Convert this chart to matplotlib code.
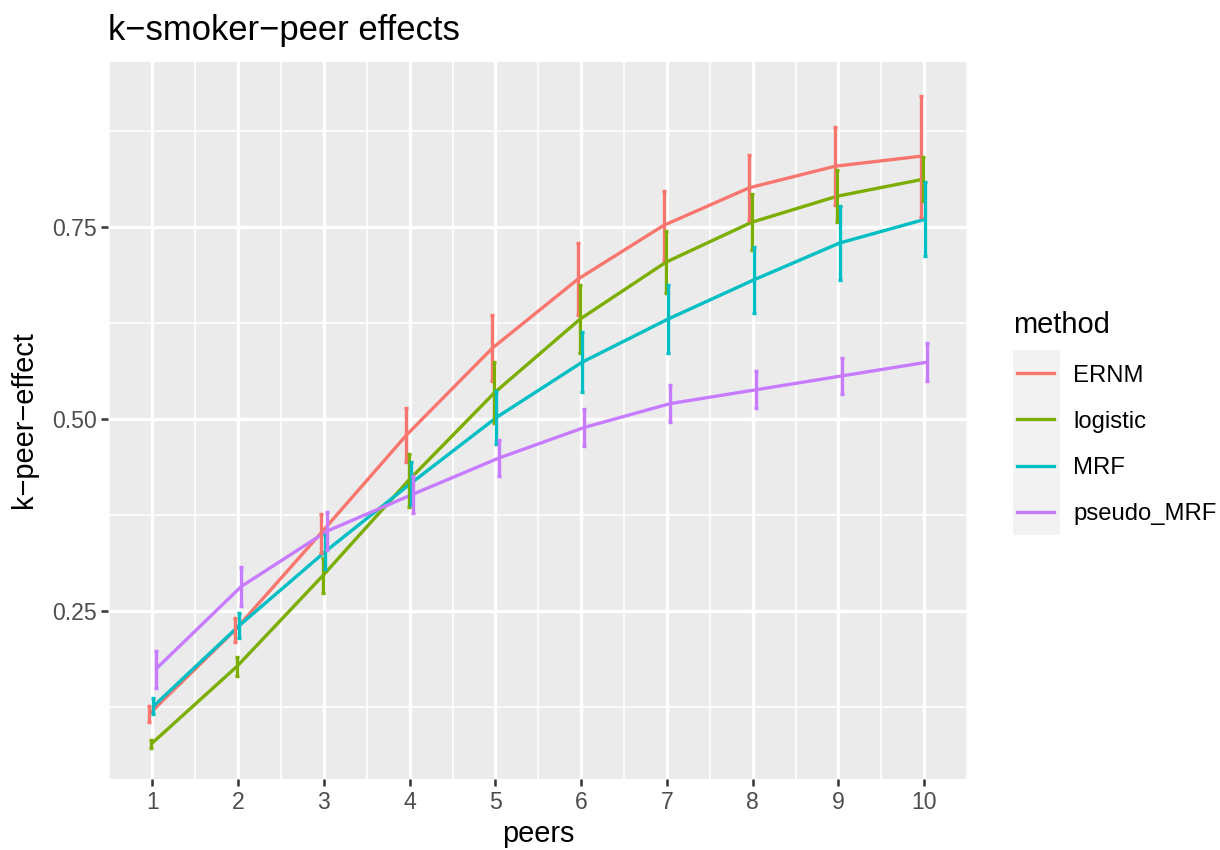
import numpy as np
import matplotlib
matplotlib.use("Agg")
import matplotlib.pyplot as plt
from matplotlib.lines import Line2D
from matplotlib.patches import Rectangle

plt.rcParams['font.family'] = ['Liberation Sans', 'DejaVu Sans']

# mean k-peer effect and error half-widths per method
peers = np.arange(1, 11)
methods = ['ERNM', 'logistic', 'MRF', 'pseudo_MRF']
colors = ['#F8766D', '#7CAE00', '#00BFC4', '#C77CFF']

ernm_mean = [0.116, 0.225, 0.351, 0.479, 0.592, 0.682, 0.752, 0.801, 0.829, 0.842]
ernm_err = [0.0104, 0.0159, 0.025, 0.0354, 0.043, 0.0467, 0.045, 0.0423, 0.0506, 0.079]

logistic_mean = [0.077, 0.178, 0.296, 0.420, 0.534, 0.630, 0.704, 0.756, 0.790, 0.812]
logistic_err = [0.0047, 0.0124, 0.0228, 0.034, 0.0397, 0.0445, 0.040, 0.0367, 0.0339, 0.0287]

mrf_mean = [0.126, 0.231, 0.327, 0.416, 0.502, 0.574, 0.630, 0.681, 0.729, 0.760]
mrf_err = [0.0104, 0.0159, 0.0217, 0.0278, 0.0347, 0.039, 0.044, 0.043, 0.0484, 0.048]

pseudo_mean = [0.174, 0.282, 0.354, 0.402, 0.449, 0.489, 0.520, 0.538, 0.556, 0.574]
pseudo_err = [0.0238, 0.025, 0.025, 0.024, 0.0234, 0.0243, 0.0239, 0.024, 0.0239, 0.0243]

means = [ernm_mean, logistic_mean, mrf_mean, pseudo_mean]
errs = [ernm_err, logistic_err, mrf_err, pseudo_err]

W, H = 1220, 850
fig = plt.figure(figsize=(W / 100, H / 100), dpi=100)
ax = fig.add_axes([108.3 / W, 1 - 779.3 / H, (968 - 108.3) / W, (779.3 - 61.7) / H])
ax.set_facecolor('#EBEBEB')

lw = 2.4
dodge = 0.1
n = len(methods)
for i, (m, c) in enumerate(zip(methods, colors)):
    off = (i - (n - 1) / 2) * dodge / n
    x = peers + off
    ax.plot(x, means[i], color=c, lw=lw, zorder=3, solid_capstyle='butt')
    ax.errorbar(x, means[i], yerr=errs[i], fmt='none', ecolor=c, elinewidth=lw,
                capsize=1.3, capthick=lw, zorder=4)

ax.set_xlim(0.487, 10.51)
ax.set_ylim(0.031, 0.965)
ax.set_xticks(peers)
ax.set_xticks(np.arange(0.5, 11, 1), minor=True)
ax.set_yticks([0.25, 0.50, 0.75])
ax.set_yticks([0.125, 0.375, 0.625, 0.875], minor=True)
ax.set_yticklabels(['0.25', '0.50', '0.75'])

ax.grid(which='major', color='white', lw=2.4, zorder=0)
ax.grid(which='minor', color='white', lw=1.2, zorder=0)
ax.set_axisbelow(True)
for s in ax.spines.values():
    s.set_visible(False)
ax.tick_params(which='major', length=5, width=1.8, color='#333333',
               labelsize=16.6, labelcolor='#4D4D4D', pad=3.2)
ax.tick_params(which='minor', length=0)

# titles
fig.text(108.3 / W, 1 - 40 / H, 'k\u2212smoker\u2212peer effects', fontsize=24.9,
         ha='left', va='baseline')
fig.text((108.3 + 968) / 2 / W, 1 - 841.7 / H, 'peers', fontsize=20.9,
         ha='center', va='baseline')
fig.text(24 / W, 1 - 420 / H, 'k\u2212peer\u2212effect', fontsize=20.9,
         ha='center', va='center', rotation=90)

# legend
fig.text(1013 / W, 1 - 333 / H, 'method', fontsize=20.9, ha='left', va='baseline')
key_top, key_h = 350, 46.25
fig.add_artist(Rectangle((1012.7 / W, 1 - (key_top + 4 * key_h) / H),
                         (1060 - 1012.7) / W, 4 * key_h / H,
                         transform=fig.transFigure, facecolor='#F2F2F2',
                         edgecolor='none'))
for i, (m, c) in enumerate(zip(methods, colors)):
    yc = 1 - (key_top + (i + 0.5) * key_h) / H
    fig.add_artist(Line2D([1017 / W, 1054.3 / W], [yc, yc], color=c, lw=lw,
                          transform=fig.transFigure))
    fig.text(1073 / W, yc, m, fontsize=17.2, ha='left', va='center_baseline')

fig.savefig('out.png', dpi=100)
